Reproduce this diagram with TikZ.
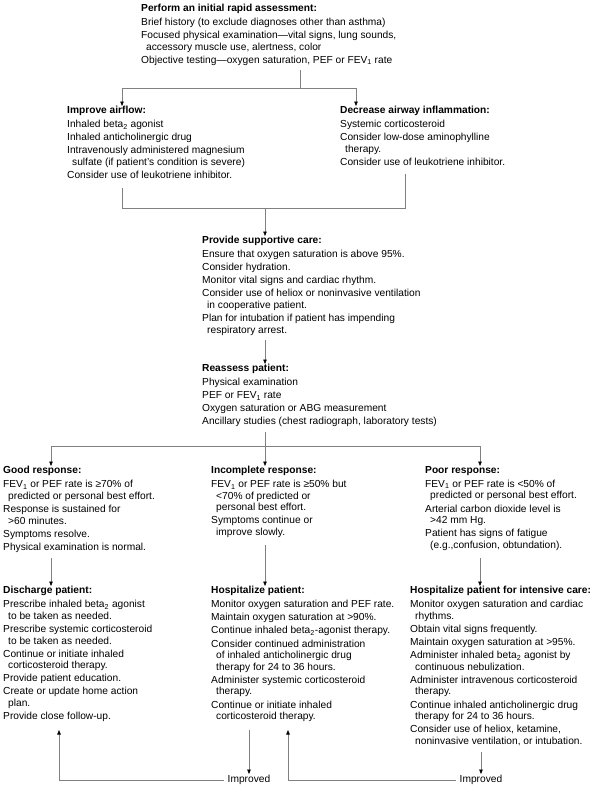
\documentclass[tikz,border=0pt]{standalone}
\usepackage{fontspec}
\setmainfont{Liberation Sans}
\usetikzlibrary{arrows.meta}
\newcommand\mysub[1]{\textsubscript{#1}}
\newlength\indw
\setlength\indw{5pt}
\newcommand\ind{\hspace*{\indw}}
\begin{document}
\begin{tikzpicture}[x=1pt,y=-1pt,
  blk/.style={anchor=north west, inner sep=0pt, align=left, font=\fontsize{10.2}{11.6}\selectfont},
  lbl/.style={inner xsep=4pt, inner ysep=1pt, font=\fontsize{10.2}{11.6}\selectfont},
  ln/.style={draw=black!50, line width=0.6pt},
  arr/.style={ln, -{Triangle[length=4.5pt,width=3.5pt,color=black]}}]
\useasboundingbox[fill=white] (0,0) rectangle (595,788);

\node[blk] (init) at (141,4) {\setlength\indw{5pt}\textbf{Perform an initial rapid assessment:}\\[2.5pt]
Brief history (to exclude diagnoses other than asthma)\\[1.5pt]
Focused physical examination—vital signs, lung sounds,\\
\ind accessory muscle use, alertness, color\\[1.5pt]
Objective testing—oxygen saturation, PEF or FEV\mysub{1} rate};

\node[blk] (air) at (67,106) {\setlength\indw{4pt}\textbf{Improve airflow:}\\[2.5pt]
Inhaled beta\mysub{2} agonist\\[1.5pt]
Inhaled anticholinergic drug\\[1.5pt]
Intravenously administered magnesium\\
\ind sulfate (if patient’s condition is severe)\\[1.5pt]
Consider use of leukotriene inhibitor.};

\node[blk] (infl) at (340,106) {\setlength\indw{7pt}\textbf{Decrease airway inflammation:}\\[2.5pt]
Systemic corticosteroid\\[1.5pt]
Consider low-dose aminophylline\\
\ind therapy.\\[1.5pt]
Consider use of leukotriene inhibitor.};

\node[blk] (supp) at (202,236) {\setlength\indw{5pt}\textbf{Provide supportive care:}\\[2.5pt]
Ensure that oxygen saturation is above 95\%.\\[1.5pt]
Consider hydration.\\[1.5pt]
Monitor vital signs and cardiac rhythm.\\[1.5pt]
Consider use of heliox or noninvasive ventilation\\
\ind in cooperative patient.\\[1.5pt]
Plan for intubation if patient has impending\\
\ind respiratory arrest.};

\node[blk] (reas) at (202,364) {\textbf{Reassess patient:}\\[2.5pt]
Physical examination\\[1.5pt]
PEF or FEV\mysub{1} rate\\[1.5pt]
Oxygen saturation or ABG measurement\\[1.5pt]
Ancillary studies (chest radiograph, laboratory tests)};

\node[blk] (good) at (3,466) {\setlength\indw{9pt}\textbf{Good response:}\\[2.5pt]
FEV\mysub{1} or PEF rate is ≥70\% of\\
\ind predicted or personal best effort.\\[1.5pt]
Response is sustained for\\
\ind >60 minutes.\\[1.5pt]
Symptoms resolve.\\[1.5pt]
Physical examination is normal.};

\node[blk] (inc) at (211,466) {\setlength\indw{6pt}\textbf{Incomplete response:}\\[2.5pt]
FEV\mysub{1} or PEF rate is ≥50\% but\\
\ind <70\% of predicted or\\
\ind personal best effort.\\[1.5pt]
Symptoms continue or\\
\ind improve slowly.};

\node[blk] (poor) at (425,466) {\setlength\indw{9pt}\textbf{Poor response:}\\[2.5pt]
FEV\mysub{1} or PEF rate is <50\% of\\
\ind predicted or personal best effort.\\[1.5pt]
Arterial carbon dioxide level is\\
\ind >42 mm Hg.\\[1.5pt]
Patient has signs of fatigue\\
\ind (e.g.,confusion, obtundation).};

\node[blk] (dis) at (3,586) {\setlength\indw{9pt}\textbf{Discharge patient:}\\[2.5pt]
Prescribe inhaled beta\mysub{2} agonist\\
\ind to be taken as needed.\\[1.5pt]
Prescribe systemic corticosteroid\\
\ind to be taken as needed.\\[1.5pt]
Continue or initiate inhaled\\
\ind corticosteroid therapy.\\[1.5pt]
Provide patient education.\\[1.5pt]
Create or update home action\\
\ind plan.\\[1.5pt]
Provide close follow-up.};

\node[blk] (hosp) at (211,586) {\setlength\indw{6pt}\textbf{Hospitalize patient:}\\[2.5pt]
Monitor oxygen saturation and PEF rate.\\[1.5pt]
Maintain oxygen saturation at >90\%.\\[1.5pt]
Continue inhaled beta\mysub{2}-agonist therapy.\\[1.5pt]
Consider continued administration\\
\ind of inhaled anticholinergic drug\\
\ind therapy for 24 to 36 hours.\\[1.5pt]
Administer systemic corticosteroid\\
\ind therapy.\\[1.5pt]
Continue or initiate inhaled\\
\ind corticosteroid therapy.};

\node[blk] (icu) at (410,586) {\setlength\indw{9pt}\textbf{Hospitalize patient for intensive care:}\\[2.5pt]
Monitor oxygen saturation and cardiac\\
\ind rhythms.\\[1.5pt]
Obtain vital signs frequently.\\[1.5pt]
Maintain oxygen saturation at >95\%.\\[1.5pt]
Administer inhaled beta\mysub{2} agonist by\\
\ind continuous nebulization.\\[1.5pt]
Administer intravenous corticosteroid\\
\ind therapy.\\[1.5pt]
Continue inhaled anticholinergic drug\\
\ind therapy for 24 to 36 hours.\\[1.5pt]
Consider use of heliox, ketamine,\\
\ind noninvasive ventilation, or intubation.};

\node[lbl] (imp1) at (249,780) {Improved};
\node[lbl] (imp2) at (481,780) {Improved};

% top split
\coordinate (t0) at (300,70);
\coordinate (t1) at (300,88);
\coordinate (tl) at (122,88);
\coordinate (tr) at (356,88);
\draw[ln] (t0) -- (t1);
\draw[ln] (tl) -- (tr);
\draw[arr] (tl) -- (air.north -| tl);
\draw[arr] (tr) -- (infl.north -| tr);
% merge
\coordinate (m1) at (122,188);
\coordinate (m2) at (405,174);
\coordinate (ml) at (122,208);
\coordinate (mr) at (405,208);
\coordinate (mc) at (265,208);
\draw[ln] (m1) -- (ml) -- (mr) -- (m2);
\draw[arr] (mc) -- (supp.north -| mc);
% supp to reassess
\coordinate (s1) at (265,340);
\draw[arr] (s1) -- (reas.north -| s1);
% reassess split
\coordinate (r0) at (265,432);
\coordinate (r1) at (265,446);
\coordinate (rl) at (51,446);
\coordinate (rr) at (480,446);
\draw[ln] (r0) -- (r1);
\draw[ln] (rl) -- (rr);
\draw[arr] (rl) -- (good.north -| rl);
\draw[arr] (r1) -- (inc.north -| r1);
\draw[arr] (rr) -- (poor.north -| rr);
% columns
\coordinate (g1) at (51,558);
\coordinate (i1) at (265,545);
\coordinate (p1) at (480,558);
\draw[arr] (g1) -- (dis.north -| g1);
\draw[arr] (i1) -- (hosp.north -| i1);
\draw[arr] (p1) -- (icu.north -| p1);
% bottom
\coordinate (h1) at (249,730);
\coordinate (u1) at (481,752);
\coordinate (b1) at (59,730);
\coordinate (b2) at (288,730);
\draw[arr] (h1) -- (imp1.north);
\draw[arr] (u1) -- (imp2.north);
\draw[arr] (imp1.west) -| (b1);
\draw[arr] (imp2.west) -| (b2);
\end{tikzpicture}
\end{document}
